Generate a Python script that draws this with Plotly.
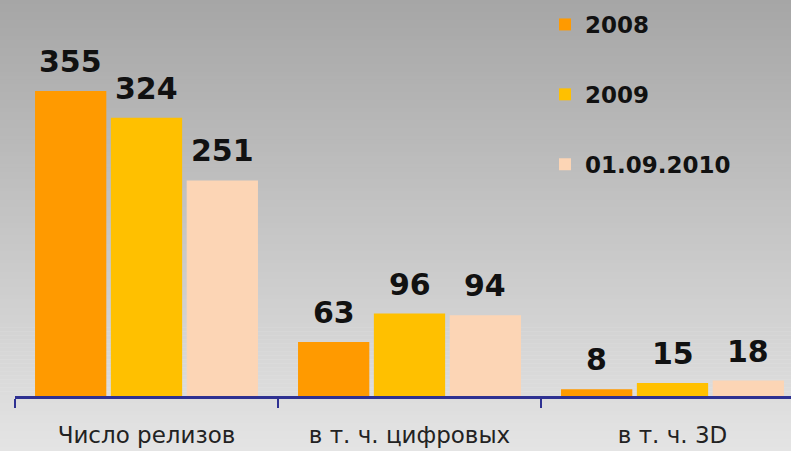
import plotly.graph_objects as go

# ---- data ----
categories = ["Число релизов", "в т. ч. цифровых", "в т. ч. 3D"]
series_names = ["2008", "2009", "01.09.2010"]
values_2008 = [355, 63, 8]
values_2009 = [324, 96, 15]
values_2010 = [251, 94, 18]
series_values = [values_2008, values_2009, values_2010]
series_colors = ["#FF9A00", "#FFC000", "#FCD5B5"]

# ---- layout constants ----
W, H = 791, 451
ML, MR, MT, MB = 15, 0, 0, 55
PLOT_W = W - ML - MR
PLOT_H = H - MT - MB
CAT_PX = 263  # pixel width of one category band
BARGAP = 0.135
BARGROUPGAP = 0.06
Y_MAX = 461

fig = go.Figure()
for name, vals, col in zip(series_names, series_values, series_colors):
    fig.add_trace(go.Bar(
        x=categories, y=vals, name=name, marker=dict(color=col, line=dict(width=0)),
        legendgroup=name, hoverinfo="skip",
    ))

# value labels above bars
slot_px = CAT_PX * (1 - BARGAP) / len(series_names)
for k, vals in enumerate(series_values):
    for cat, v in zip(categories, vals):
        fig.add_annotation(
            x=cat, y=v, text=str(v), showarrow=False,
            xanchor="center", yanchor="bottom",
            xshift=(k - (len(series_names) - 1) / 2) * slot_px,
            yshift=10,
            font=dict(family="DejaVu Sans", size=30, color="#111111", weight="bold"),
        )

# background vertical gradient (strips)
n_strips = 113
top_c, bot_c = 166, 228
for i in range(n_strips):
    t = i / (n_strips - 1)
    c = round(top_c + (bot_c - top_c) * t)
    y0_px = H * i / n_strips
    y1_px = H * (i + 1) / n_strips + 0.6
    fig.add_shape(
        type="rect", xref="paper", yref="paper", layer="below",
        x0=-ML / PLOT_W, x1=1 + 1 / PLOT_W,
        y0=1 - (y1_px - MT) / PLOT_H, y1=1 - (y0_px - MT) / PLOT_H,
        fillcolor=f"rgb({c},{c},{c})", line=dict(width=0),
    )

fig.update_layout(
    width=W, height=H,
    margin=dict(l=ML, r=MR, t=MT, b=MB, pad=0, autoexpand=False),
    paper_bgcolor="rgba(0,0,0,0)", plot_bgcolor="rgba(0,0,0,0)",
    barmode="group", bargap=BARGAP, bargroupgap=BARGROUPGAP,
    showlegend=True,
    legend=dict(
        x=(545 - ML) / PLOT_W, xanchor="left", y=1 - 3 / PLOT_H, yanchor="top",
        bgcolor="rgba(0,0,0,0)", traceorder="grouped", tracegroupgap=37,
        font=dict(family="DejaVu Sans", size=23, color="#111111", weight="bold"),
        itemclick=False, itemdoubleclick=False,
    ),
    xaxis=dict(
        type="category", range=[-0.5, -0.5 + PLOT_W / CAT_PX],
        showline=True, linecolor="#2E3192", linewidth=3,
        ticks="outside", tickson="boundaries", ticklen=9, tickwidth=2, tickcolor="#2E3192",
        ticklabelstandoff=16, automargin=False,
        tickfont=dict(family="DejaVu Sans", size=23, color="#222222"),
        showgrid=False, zeroline=False, fixedrange=True,
    ),
    yaxis=dict(range=[0, Y_MAX], visible=False, showgrid=False, zeroline=False,
               fixedrange=True, automargin=False),
)

fig.write_html(
    "out.html",
    config={"displayModeBar": False},
    post_script="document.body.style.margin='0';document.body.style.overflow='hidden';",
)
